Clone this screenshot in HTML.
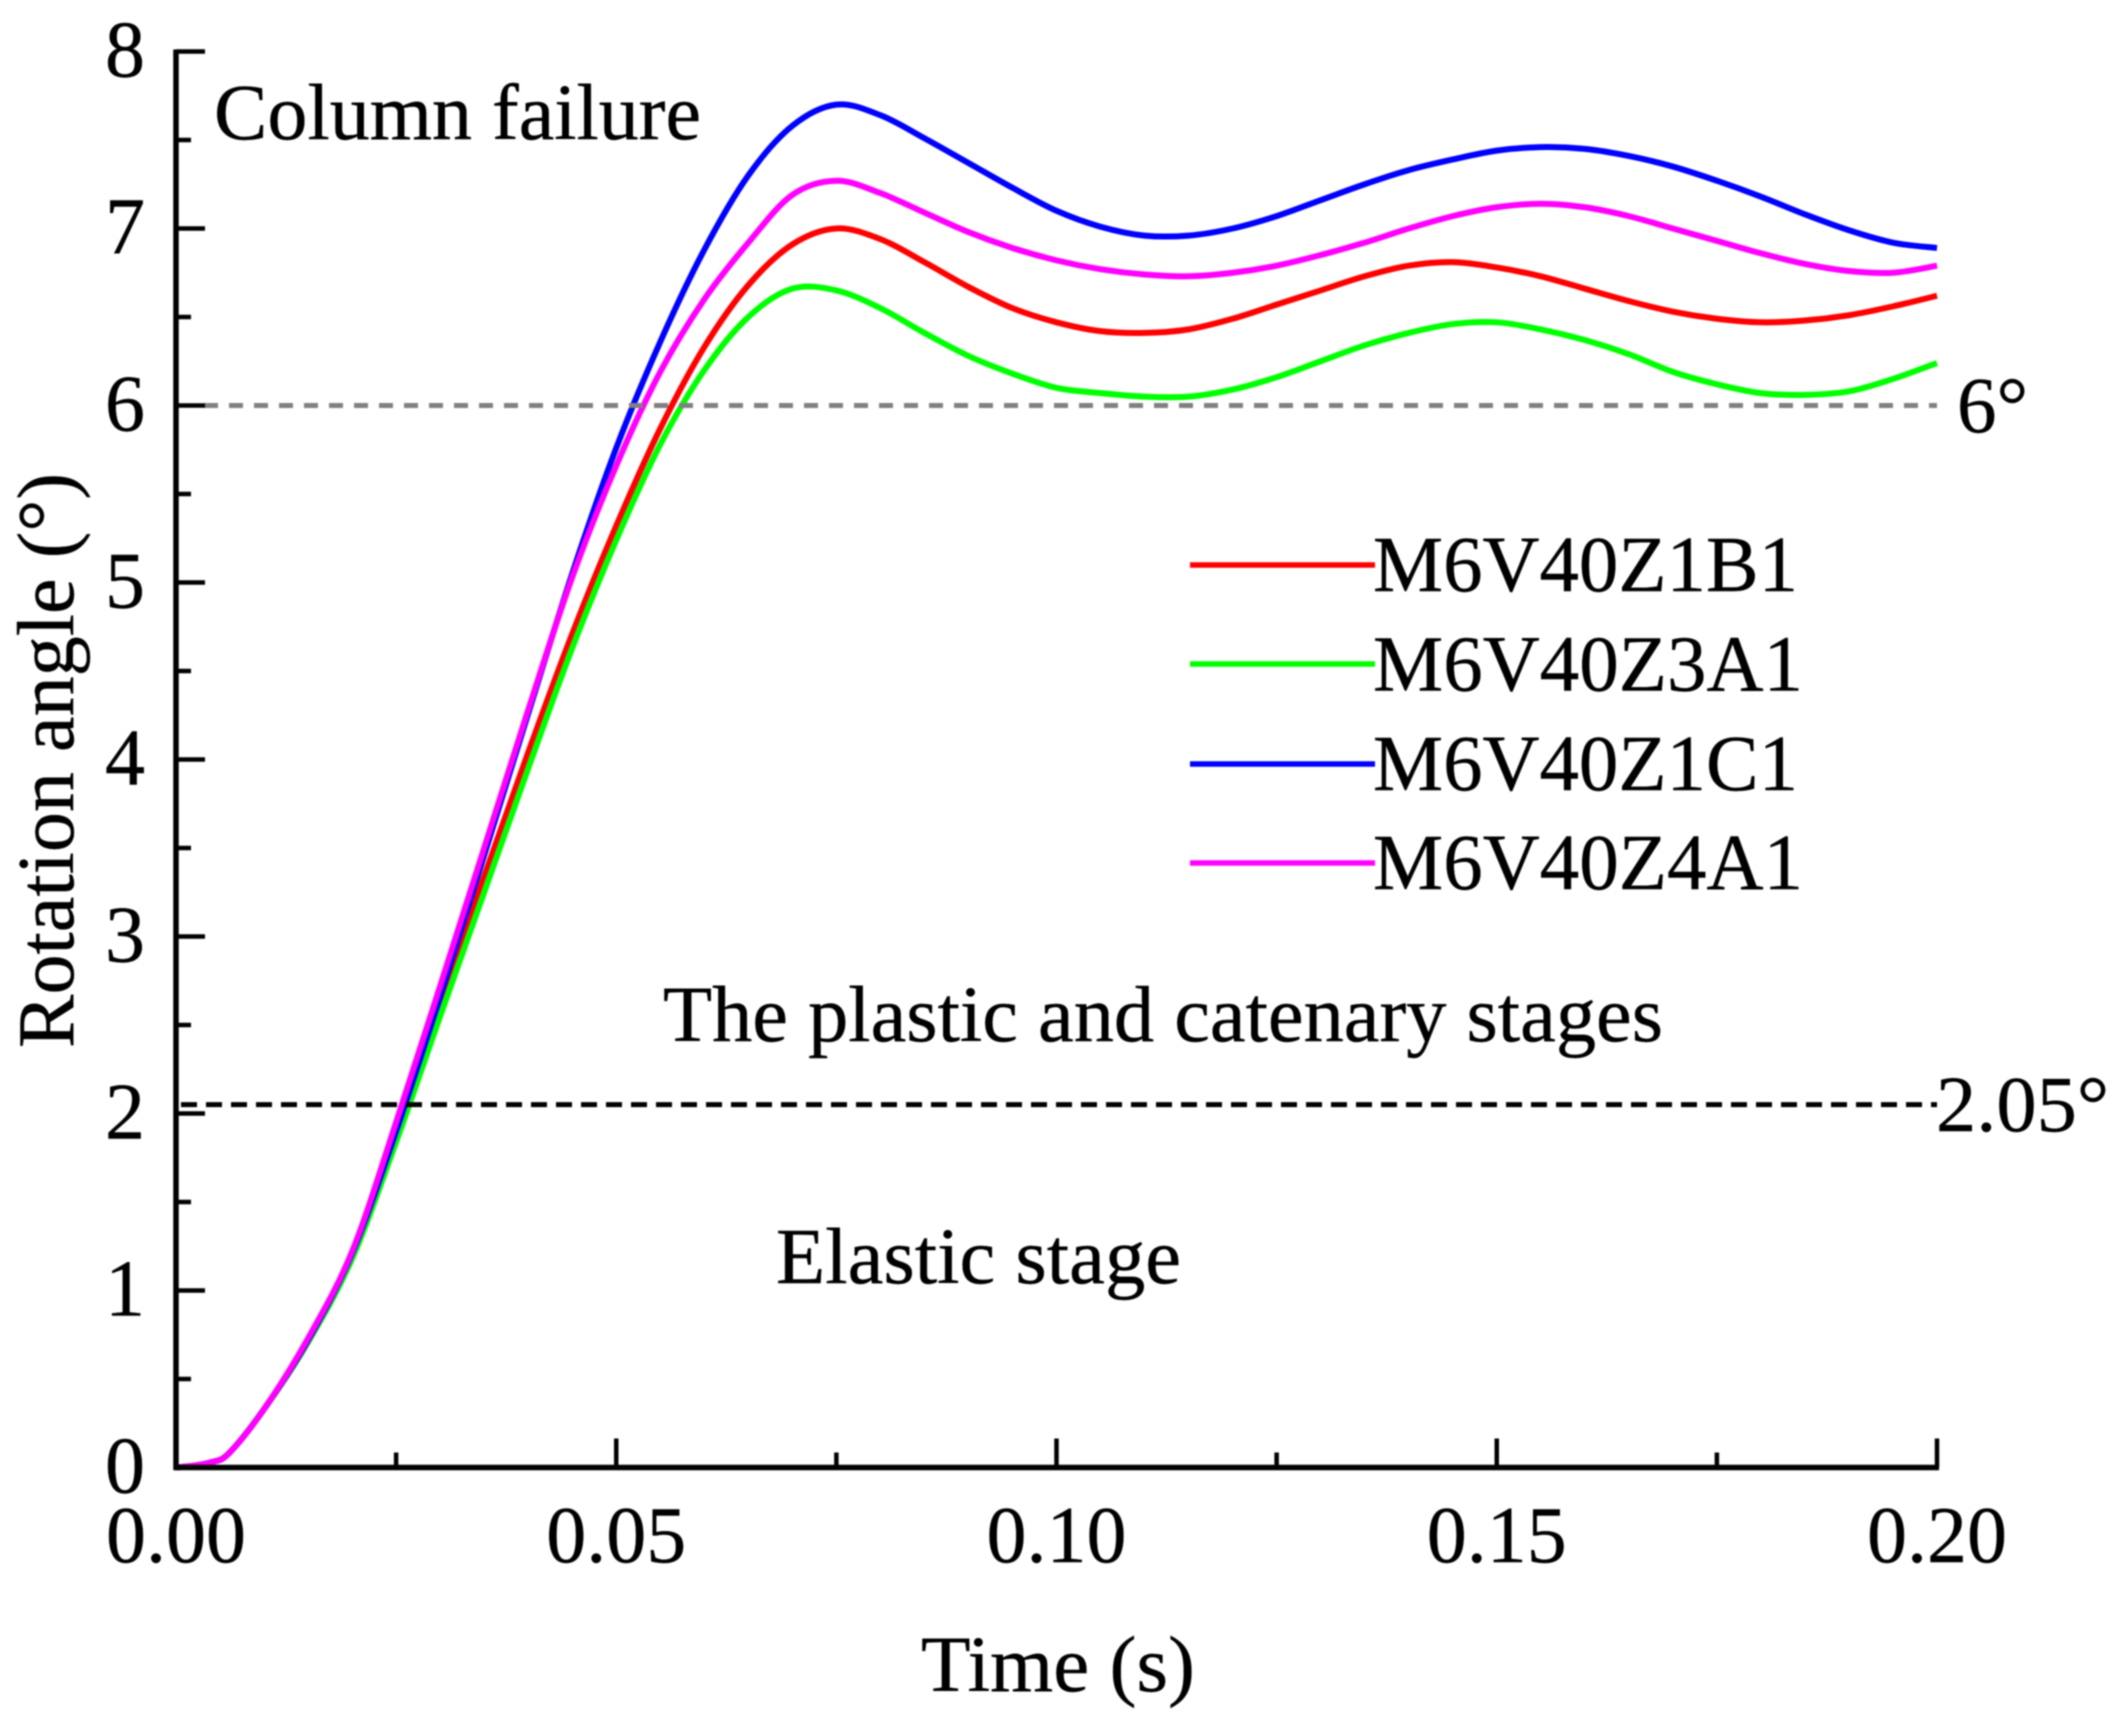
<!DOCTYPE html>
<html lang="en">
<head>
<meta charset="utf-8">
<title>Rotation angle vs time</title>
<style>
html,body{margin:0;padding:0;background:#fff;}
svg{display:block;filter:blur(0.7px);}
text{font-family:"Liberation Serif","Times New Roman",serif;fill:#000;stroke:#000;stroke-width:0.4px;}
</style>
</head>
<body>
<svg id="chart" xmlns="http://www.w3.org/2000/svg" width="2126" height="1729" viewBox="0 0 2126 1729">
  <rect x="0" y="0" width="2126" height="1729" fill="#fff"/>
  <g id="series"></g>
  <g id="refs"></g>
  <g id="axes"></g>

  <text transform="translate(73,1048) rotate(-90)" font-size="80" textLength="575" lengthAdjust="spacingAndGlyphs">Rotation angle (°)</text>
  <text x="921" y="1691" font-size="79" textLength="274" lengthAdjust="spacingAndGlyphs">Time (s)</text>

  <text x="214" y="139" font-size="79" textLength="487" lengthAdjust="spacingAndGlyphs">Column failure</text>
  <text x="663" y="1041" font-size="79" textLength="1000" lengthAdjust="spacingAndGlyphs">The plastic and catenary stages</text>
  <text x="776" y="1283" font-size="79" textLength="405" lengthAdjust="spacingAndGlyphs">Elastic stage</text>
  <text x="1957" y="432" font-size="79">6°</text>
  <text x="1936" y="1131" font-size="79" textLength="173" lengthAdjust="spacingAndGlyphs">2.05°</text>

  <g>
    <line x1="1190" x2="1375" y1="565" y2="565" stroke="#ff0000" stroke-width="5.5"/>
    <text x="1373" y="591" font-size="79" textLength="425" lengthAdjust="spacingAndGlyphs">M6V40Z1B1</text>
    <line x1="1190" x2="1375" y1="664" y2="664" stroke="#00ff00" stroke-width="5.5"/>
    <text x="1373" y="690.5" font-size="79" textLength="430" lengthAdjust="spacingAndGlyphs">M6V40Z3A1</text>
    <line x1="1190" x2="1375" y1="764" y2="764" stroke="#0000ff" stroke-width="5.5"/>
    <text x="1373" y="790" font-size="79" textLength="425" lengthAdjust="spacingAndGlyphs">M6V40Z1C1</text>
    <line x1="1190" x2="1375" y1="863" y2="863" stroke="#ff00ff" stroke-width="5.5"/>
    <text x="1373" y="889" font-size="79" textLength="430" lengthAdjust="spacingAndGlyphs">M6V40Z4A1</text>
  </g>
</svg>
<script>
const timeValues = [0,0.002,0.004,0.006,0.01,0.015,0.02,0.025,0.03,0.035,0.04,0.045,0.05,0.055,0.06,0.065,0.07,0.075,0.08,0.085,0.09,0.095,0.1,0.105,0.11,0.115,0.12,0.125,0.13,0.135,0.14,0.145,0.15,0.155,0.16,0.165,0.17,0.175,0.18,0.185,0.19,0.195,0.2];
const redValues = [0,0.01,0.03,0.08,0.33,0.71,1.19,1.88,2.62,3.34,4.04,4.71,5.32,5.87,6.33,6.68,6.91,7.0,6.94,6.81,6.67,6.55,6.47,6.42,6.41,6.43,6.49,6.57,6.65,6.73,6.79,6.81,6.78,6.73,6.66,6.59,6.53,6.49,6.47,6.48,6.51,6.56,6.62];
const greenValues = [0,0.01,0.03,0.08,0.33,0.71,1.18,1.84,2.55,3.25,3.95,4.63,5.24,5.78,6.2,6.5,6.66,6.65,6.55,6.41,6.28,6.18,6.1,6.07,6.05,6.05,6.09,6.16,6.25,6.34,6.41,6.46,6.47,6.43,6.37,6.29,6.19,6.12,6.07,6.06,6.08,6.15,6.24];
const blueValues = [0,0.01,0.03,0.08,0.33,0.72,1.21,1.9,2.66,3.46,4.26,5.05,5.76,6.36,6.88,7.3,7.58,7.7,7.64,7.51,7.37,7.23,7.1,7.01,6.96,6.96,7.0,7.07,7.16,7.25,7.33,7.39,7.44,7.46,7.45,7.41,7.35,7.27,7.18,7.08,6.99,6.92,6.89];
const magentaValues = [0,0.01,0.03,0.08,0.33,0.73,1.22,1.95,2.72,3.5,4.28,5.03,5.66,6.19,6.6,6.92,7.19,7.27,7.2,7.09,6.98,6.89,6.82,6.77,6.74,6.73,6.75,6.79,6.85,6.92,7.0,7.07,7.12,7.14,7.12,7.07,7.0,6.93,6.86,6.8,6.76,6.75,6.79];
const xMajorTicks = [0,0.05,0.1,0.15,0.2];
const xMajorLabels = ["0.00","0.05","0.10","0.15","0.20"];
const xMinorTicks = [0.025,0.075,0.125,0.175];
const yMajorTicks = [0,1,2,3,4,5,6,7,8];
const yMajorLabels = ["0","1","2","3","4","5","6","7","8"];
const yMinorTicks = [0.5,1.5,2.5,3.5,4.5,5.5,6.5,7.5];
const plasticLimit = 2.05;
const failureLimit = 6;

const NS = 'http://www.w3.org/2000/svg';
const X0 = 176, X1 = 1937, Y0 = 1467.5, Y8 = 51.5;
function xScale(t){ return X0 + (t / 0.2) * (X1 - X0); }
function yScale(v){ return Y0 - (v / 8) * (Y0 - Y8); }

function smoothPath(ts, vs){
  const p = ts.map((t, i) => [xScale(t), yScale(vs[i])]);
  let d = 'M' + p[0][0].toFixed(2) + ' ' + p[0][1].toFixed(2);
  for (let i = 0; i < p.length - 1; i++) {
    const a = p[Math.max(i - 1, 0)], b = p[i], c = p[i + 1], e = p[Math.min(i + 2, p.length - 1)];
    const c1x = b[0] + (c[0] - a[0]) / 6, c1y = b[1] + (c[1] - a[1]) / 6;
    const c2x = c[0] - (e[0] - b[0]) / 6, c2y = c[1] - (e[1] - b[1]) / 6;
    d += 'C' + c1x.toFixed(2) + ' ' + c1y.toFixed(2) + ' ' + c2x.toFixed(2) + ' ' + c2y.toFixed(2) + ' ' + c[0].toFixed(2) + ' ' + c[1].toFixed(2);
  }
  return d;
}

function makeLine(parent, x1, y1, x2, y2, stroke, width){
  const l = document.createElementNS(NS, 'line');
  l.setAttribute('x1', x1); l.setAttribute('y1', y1);
  l.setAttribute('x2', x2); l.setAttribute('y2', y2);
  l.setAttribute('stroke', stroke); l.setAttribute('stroke-width', width);
  parent.appendChild(l);
  return l;
}

const seriesGroup = document.getElementById('series');
const refsGroup = document.getElementById('refs');
const axesGroup = document.getElementById('axes');

function addCurve(values, color, name){
  const path = document.createElementNS(NS, 'path');
  path.setAttribute('d', smoothPath(timeValues, values));
  path.setAttribute('fill', 'none');
  path.setAttribute('stroke', color);
  path.setAttribute('stroke-width', '6');
  path.setAttribute('stroke-linejoin', 'round');
  
  
  seriesGroup.appendChild(path);
}
addCurve(redValues, '#ff0000', 'series-m6v40z1b1');
addCurve(greenValues, '#00ff00', 'series-m6v40z3a1');
addCurve(blueValues, '#0000ff', 'series-m6v40z1c1');
addCurve(magentaValues, '#ff00ff', 'series-m6v40z4a1');

const failureLine = makeLine(refsGroup, X0 + 28, yScale(failureLimit), X1, yScale(failureLimit), '#808080', 5);
failureLine.setAttribute('stroke-dasharray', '14 11');


const plasticLine = makeLine(refsGroup, X0 + 5, yScale(plasticLimit), X1, yScale(plasticLimit), '#000000', 5);
plasticLine.setAttribute('stroke-dasharray', '16 9');



const yAxisLine = makeLine(axesGroup, X0, Y8 - 2, X0, Y0 + 2.5, '#000', 5.5);


const xAxisLine = makeLine(axesGroup, X0 - 2.5, Y0, X1 + 2, Y0, '#000', 5.5);



xMajorTicks.forEach((t, i) => {
  const tick = makeLine(axesGroup, xScale(t), Y0, xScale(t), Y0 - 29, '#000', 4.5);
  
  
  const label = document.createElementNS(NS, 'text');
  label.setAttribute('x', xScale(t));
  label.setAttribute('y', 1562);
  label.setAttribute('font-size', '80');
  label.setAttribute('text-anchor', 'middle');
  label.textContent = xMajorLabels[i];
  
  
  axesGroup.appendChild(label);
});
xMinorTicks.forEach(t => {
  const tick = makeLine(axesGroup, xScale(t), Y0, xScale(t), Y0 - 15, '#000', 4.5);
  
  
});
yMajorTicks.forEach((v, i) => {
  const tick = makeLine(axesGroup, X0, yScale(v), X0 + 29, yScale(v), '#000', 4.5);
  
  
  const label = document.createElementNS(NS, 'text');
  label.setAttribute('x', 145);
  label.setAttribute('y', yScale(v) + 25);
  label.setAttribute('font-size', '80');
  label.setAttribute('text-anchor', 'end');
  label.textContent = yMajorLabels[i];
  
  
  axesGroup.appendChild(label);
});
yMinorTicks.forEach(v => {
  const tick = makeLine(axesGroup, X0, yScale(v), X0 + 15, yScale(v), '#000', 4.5);
  
  
});
</script>
</body>
</html>
